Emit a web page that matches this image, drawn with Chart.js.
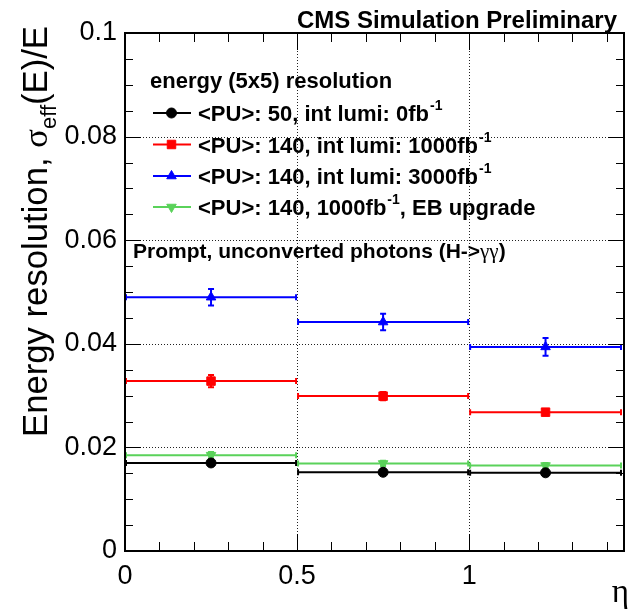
<!DOCTYPE html>
<html><head><meta charset="utf-8">
<script src="https://cdn.jsdelivr.net/npm/chart.js@4"></script>
<style>html,body{margin:0;padding:0;background:#fff}#wrap{width:631px;height:616px}</style>
</head><body><div id="wrap"><canvas id="c" width="631" height="616"></canvas></div>
<script>
// ---- data ----
const binEdges = [0, 0.5, 1.0, 1.4442];
const binCenters = [0.25, 0.75, 1.222];
const xTickValues = [0, 0.5, 1];
const yTickValues = [0, 0.02, 0.04, 0.06, 0.08, 0.1];

const labelsPU = [
  ['<PU>: 50, int lumi: 0fb', '-1', ''],
  ['<PU>: 140, int lumi: 1000fb', '-1', ''],
  ['<PU>: 140, int lumi: 3000fb', '-1', ''],
  ['<PU>: 140, 1000fb', '-1', ', EB upgrade']
];
const resPU50 = [0.0170, 0.0152, 0.0151];
const errPU50 = [0.0005, 0.0006, 0.0005];
const res1000 = [0.0328, 0.0299, 0.0268];
const err1000 = [0.0012, 0.0008, 0.0006];
const res3000 = [0.0490, 0.0442, 0.0394];
const err3000 = [0.0016, 0.0016, 0.0017];
const resUpg = [0.0185, 0.0169, 0.0165];
const errUpg = [0.0006, 0.0005, 0.0005];

const colors = ['#000000', '#ff0000', '#0000ff', '#5ad25a'];
const styles = ['circle', 'rect', 'triangle', 'triangle'];
const rotations = [0, 0, 0, 180];
const radii = [5, 6, 5.5, 5.5];
const values = [resPU50, res1000, res3000, resUpg];
const errors = [errPU50, err1000, err3000, errUpg];

const SANS = '"Liberation Sans", Arial, Helvetica, sans-serif';
const SERIF = '"Liberation Serif", "DejaVu Serif", serif';

const datasets = values.map((vals, i) => ({
  label: labelsPU[i].join(''),
  data: binCenters.map((x, k) => ({x: x, y: vals[k]})),
  errs: errors[i],
  showLine: false,
  pointStyle: styles[i],
  rotation: rotations[i],
  pointRadius: radii[i],
  backgroundColor: colors[i],
  borderColor: colors[i],
  borderWidth: 1
}));

function drawMarker(ctx, style, x, y, r, rot) {
  Chart.helpers.drawPoint(ctx, {pointStyle: style, radius: r, rotation: rot, borderWidth: 1}, x, y);
}

const rootPlugin = {
  id: 'rootDecor',
  beforeDatasetsDraw(chart) {
    const ctx = chart.ctx, xs = chart.scales.x, ys = chart.scales.y, a = chart.chartArea;
    ctx.save();
    // dotted grid
    ctx.strokeStyle = '#222';
    ctx.lineWidth = 1;
    ctx.setLineDash([1, 2]);
    [0.5, 1].forEach(v => {
      const px = Math.round(xs.getPixelForValue(v)) + 0.5;
      ctx.beginPath(); ctx.moveTo(px, a.top); ctx.lineTo(px, a.bottom); ctx.stroke();
    });
    [0.02, 0.04, 0.06, 0.08].forEach(v => {
      const py = Math.round(ys.getPixelForValue(v)) + 0.5;
      ctx.beginPath(); ctx.moveTo(a.left, py); ctx.lineTo(a.right, py); ctx.stroke();
    });
    ctx.setLineDash([]);
    // bin lines + error bars
    chart.data.datasets.forEach((ds) => {
      ctx.strokeStyle = ds.borderColor;
      ctx.lineWidth = 2;
      ds.data.forEach((p, k) => {
        const x0 = xs.getPixelForValue(binEdges[k]);
        const x1 = xs.getPixelForValue(binEdges[k + 1]);
        const xc = xs.getPixelForValue(p.x);
        const yc = ys.getPixelForValue(p.y);
        const yh = ys.getPixelForValue(p.y + ds.errs[k]);
        const yl = ys.getPixelForValue(p.y - ds.errs[k]);
        ctx.beginPath();
        ctx.moveTo(x0, yc); ctx.lineTo(x1, yc);
        ctx.moveTo(x0 + 1, yc - 3); ctx.lineTo(x0 + 1, yc + 3);
        ctx.moveTo(x1 - 1, yc - 3); ctx.lineTo(x1 - 1, yc + 3);
        ctx.moveTo(xc, yh); ctx.lineTo(xc, yl);
        ctx.moveTo(xc - 3, yh); ctx.lineTo(xc + 3, yh);
        ctx.moveTo(xc - 3, yl); ctx.lineTo(xc + 3, yl);
        ctx.stroke();
      });
    });
    ctx.restore();
  },
  afterDraw(chart) {
    const ctx = chart.ctx, xs = chart.scales.x, ys = chart.scales.y, a = chart.chartArea;
    ctx.save();
    // ticks
    ctx.strokeStyle = '#000';
    ctx.lineWidth = 1;
    ctx.beginPath();
    for (let i = 1; i <= 14; i++) {
      const v = i / 10;
      const px = Math.round(xs.getPixelForValue(v)) + 0.5;
      const L = (i % 5 === 0) ? 17 : 9;
      ctx.moveTo(px, a.bottom); ctx.lineTo(px, a.bottom - L);
      ctx.moveTo(px, a.top); ctx.lineTo(px, a.top + L);
    }
    for (let i = 1; i < 20; i++) {
      const v = i * 0.005;
      const py = Math.round(ys.getPixelForValue(v)) + 0.5;
      const L = (i % 4 === 0) ? 16 : 8;
      ctx.moveTo(a.left, py); ctx.lineTo(a.left + L, py);
      ctx.moveTo(a.right, py); ctx.lineTo(a.right - L, py);
    }
    ctx.stroke();
    // frame
    ctx.lineWidth = 2;
    ctx.strokeRect(a.left, a.top, a.right - a.left, a.bottom - a.top);

    ctx.fillStyle = '#000';
    ctx.textBaseline = 'alphabetic';
    // title
    ctx.font = 'bold 24px ' + SANS;
    ctx.textAlign = 'right';
    ctx.fillText('CMS Simulation Preliminary', 617, 28);
    ctx.textAlign = 'left';

    // legend header
    ctx.font = 'bold 22px ' + SANS;
    ctx.fillText('energy (5x5) resolution', 150, 88);
    const rowY = [113, 144.5, 176, 207];
    chart.data.datasets.forEach((ds, i) => {
      const y = rowY[i];
      ctx.strokeStyle = ds.borderColor;
      ctx.fillStyle = ds.backgroundColor;
      ctx.lineWidth = 2;
      ctx.beginPath(); ctx.moveTo(153, y); ctx.lineTo(191, y); ctx.stroke();
      ctx.lineWidth = 1;
      drawMarker(ctx, ds.pointStyle, 171.5, y, ds.pointRadius, ds.rotation);
      ctx.fillStyle = '#000';
      const parts = labelsPU[i];
      let x = 198;
      ctx.font = 'bold 22px ' + SANS;
      ctx.fillText(parts[0], x, y + 8);
      x += ctx.measureText(parts[0]).width;
      ctx.font = 'bold 14px ' + SANS;
      ctx.fillText(parts[1], x + 1, y - 3);
      x += ctx.measureText(parts[1]).width + 1;
      ctx.font = 'bold 22px ' + SANS;
      ctx.fillText(parts[2], x, y + 8);
    });
    // prompt text
    let px = 133;
    const py = 258;
    ctx.font = 'bold 21px ' + SANS;
    ctx.fillText('Prompt, unconverted photons (H->', px, py);
    px += ctx.measureText('Prompt, unconverted photons (H->').width;
    ctx.font = '21px ' + SERIF;
    ctx.fillText('\u03b3\u03b3', px, py);
    px += ctx.measureText('\u03b3\u03b3').width;
    ctx.font = 'bold 21px ' + SANS;
    ctx.fillText(')', px, py);

    // x axis title
    ctx.font = '33px ' + SERIF;
    ctx.textAlign = 'right';
    ctx.fillText('\u03b7', 629, 602);

    // y axis title (rotated)
    ctx.save();
    ctx.translate(47, 0);
    ctx.rotate(-Math.PI / 2);
    const segs = [
      {t: 'Energy resolution, ', f: '34.7px ' + SANS, dy: 0},
      {t: '\u03c3', f: '34.7px ' + SERIF, dy: 0},
      {t: 'eff', f: '22px ' + SANS, dy: 9},
      {t: '(E)/E', f: '34.7px ' + SANS, dy: 0}
    ];
    let tot = 0;
    segs.forEach(s => { ctx.font = s.f; tot += ctx.measureText(s.t).width; });
    let cx = -26 - tot;
    ctx.textAlign = 'left';
    segs.forEach(s => { ctx.font = s.f; ctx.fillText(s.t, cx, s.dy); cx += ctx.measureText(s.t).width; });
    ctx.restore();
    ctx.restore();
  }
};

const fmt = v => (Math.abs(v) < 1e-9 ? '0' : String(+v.toFixed(2)));

new Chart(document.getElementById('c'), {
  type: 'scatter',
  data: {datasets: datasets},
  options: {
    responsive: false,
    animation: false,
    devicePixelRatio: 1,
    layout: {padding: {top: 33, right: 3, left: 0, bottom: 0}},
    plugins: {legend: {display: false}, tooltip: {enabled: false}, title: {display: false}},
    scales: {
      x: {
        type: 'linear', min: 0, max: 1.45,
        afterBuildTicks: s => { s.ticks = xTickValues.map(v => ({value: v})); },
        afterFit: s => { s.height = 65; },
        grid: {display: false, drawTicks: false},
        border: {display: false},
        ticks: {callback: v => fmt(v), color: '#000', font: {family: SANS, size: 27}, padding: 9, maxRotation: 0, autoSkip: false}
      },
      y: {
        type: 'linear', min: 0, max: 0.1,
        afterBuildTicks: s => { s.ticks = yTickValues.map(v => ({value: v})); },
        afterFit: s => { s.width = 125; },
        grid: {display: false, drawTicks: false},
        border: {display: false},
        ticks: {callback: v => fmt(v), color: '#000', font: {family: SANS, size: 27}, padding: 8, autoSkip: false}
      }
    }
  },
  plugins: [rootPlugin]
});
</script>
</body></html>
